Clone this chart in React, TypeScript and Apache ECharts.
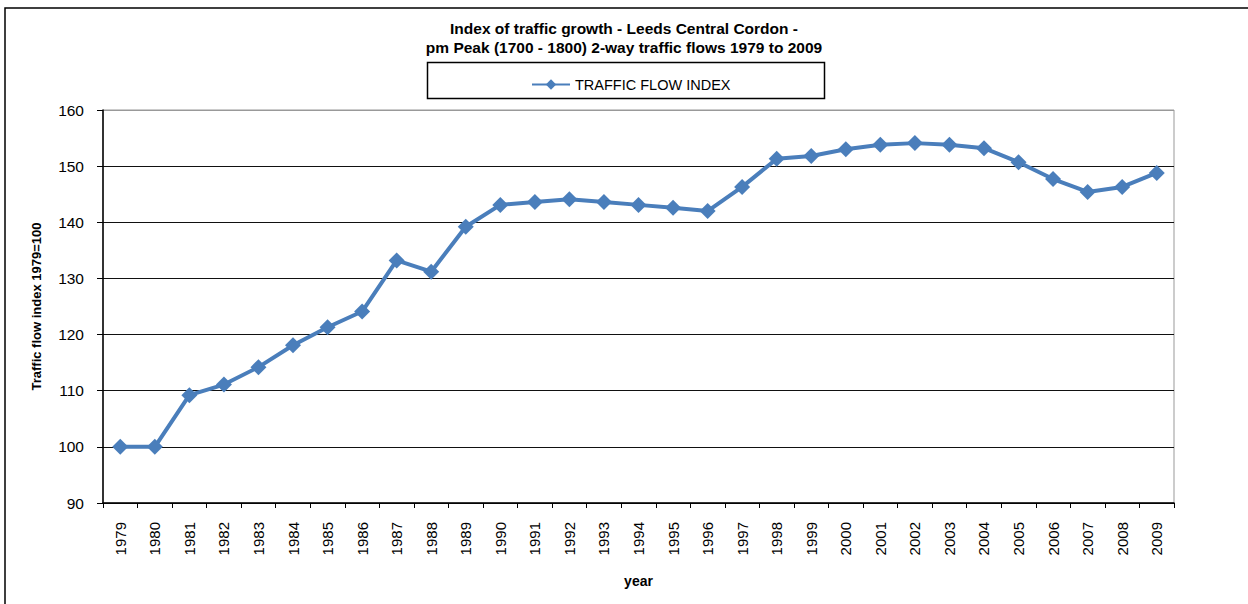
import React, { useEffect, useRef } from "react";
import * as echarts from "echarts";

const years = [
  "1979", "1980", "1981", "1982", "1983", "1984", "1985", "1986", "1987", "1988",
  "1989", "1990", "1991", "1992", "1993", "1994", "1995", "1996", "1997", "1998",
  "1999", "2000", "2001", "2002", "2003", "2004", "2005", "2006", "2007", "2008", "2009",
];
const trafficFlowIndex = [
  100, 100, 109.2, 111.1, 114.2, 118.1, 121.3, 124.1, 133.2, 131.2,
  139.2, 143.1, 143.6, 144.1, 143.6, 143.1, 142.6, 142.0, 146.3, 151.3,
  151.8, 153.0, 153.8, 154.1, 153.8, 153.2, 150.7, 147.7, 145.4, 146.3, 148.8,
];
const seriesName = "TRAFFIC FLOW INDEX";
const titleText = "Index of traffic growth - Leeds Central Cordon -\npm Peak (1700 - 1800) 2-way traffic flows 1979 to 2009";
const yAxisName = "Traffic flow index 1979=100";
const xAxisName = "year";

export default function App() {
  const ref = useRef<HTMLDivElement>(null);
  useEffect(() => {
    if (!ref.current) return;
    const chart = echarts.init(ref.current, null, { renderer: "svg" });
    const font = "Arial, 'Liberation Sans', sans-serif";
    chart.setOption({
      animation: false,
      backgroundColor: "#fff",
      textStyle: { fontFamily: font },
      title: {
        text: titleText,
        left: "center",
        top: 14,
        textStyle: { fontSize: 15.5, fontWeight: "bold", color: "#000", lineHeight: 19, fontFamily: font },
      },
      graphic: [
        { type: "rect", shape: { x: 5, y: 8, width: 1260, height: 620 }, style: { fill: "none", stroke: "#000", lineWidth: 1.5 }, silent: true },
        { type: "rect", shape: { x: 427.5, y: 62.5, width: 397, height: 36 }, style: { fill: "none", stroke: "#000", lineWidth: 1.5 }, silent: true },
      ],
      legend: {
        data: [seriesName],
        left: 526,
        top: 72,
        itemWidth: 38,
        itemHeight: 13,
        itemGap: 4,
        textStyle: { fontSize: 14.5, color: "#000", fontFamily: font },
      },
      grid: {
        left: 103,
        right: 74,
        top: 110,
        bottom: 101,
        show: true,
        borderColor: "#999",
        borderWidth: 1,
      },
      xAxis: {
        type: "category",
        data: years,
        boundaryGap: true,
        name: xAxisName,
        nameLocation: "middle",
        nameGap: 71,
        nameTextStyle: { fontSize: 14, fontWeight: "bold", color: "#000" },
        axisLine: { lineStyle: { color: "#000", width: 1.5 } },
        axisTick: { show: true, alignWithLabel: false, length: 5, lineStyle: { color: "#000" } },
        axisLabel: { rotate: 90, fontSize: 15, color: "#000", margin: 19 },
        splitLine: { show: false },
      },
      yAxis: {
        type: "value",
        min: 90,
        max: 160,
        interval: 10,
        name: yAxisName,
        nameLocation: "middle",
        nameGap: 60,
        nameTextStyle: { fontSize: 13, fontWeight: "bold", color: "#000" },
        axisLine: { show: true, lineStyle: { color: "#000", width: 1.5 } },
        axisTick: { show: true, length: 6, lineStyle: { color: "#000" } },
        axisLabel: { fontSize: 15.5, color: "#000", margin: 19 },
        splitLine: {
          show: true,
          lineStyle: { color: ["#111", "#111", "#111", "#111", "#111", "#111", "#111", "#999"], width: 1 },
        },
      },
      series: [
        {
          name: seriesName,
          type: "line",
          data: trafficFlowIndex,
          symbol: "diamond",
          symbolSize: 16,
          lineStyle: { color: "#4a7ebb", width: 4 },
          itemStyle: { color: "#4a7ebb" },
        },
      ],
    });
    return () => chart.dispose();
  }, []);
  return (
    <div
      ref={ref}
      style={{ position: "fixed", left: 0, top: 0, width: 1248, height: 604 }}
    />
  );
}
